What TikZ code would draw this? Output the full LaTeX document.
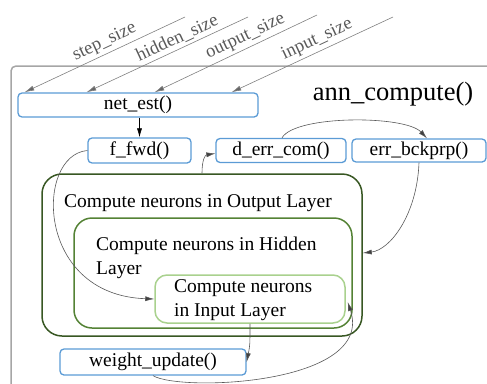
\documentclass[tikz,border=0pt]{standalone}
\usepackage{fontspec}
\setmainfont{Liberation Serif}
\usetikzlibrary{arrows.meta}
\definecolor{boxblue}{HTML}{5B9BD5}
\definecolor{dkgreen}{HTML}{385723}
\definecolor{mdgreen}{HTML}{548235}
\definecolor{ltgreen}{HTML}{A9D18E}
\definecolor{framegray}{HTML}{A6A6A6}
\definecolor{linegray}{HTML}{595959}
\definecolor{headgray}{HTML}{404040}
\definecolor{labelgray}{HTML}{595959}
\begin{document}
\begin{tikzpicture}[x=1pt,y=-1pt,
  fn/.style={draw=boxblue,line width=1.3pt,rounded corners=4pt,inner sep=0pt,font=\fontsize{19.5}{24}\selectfont},
  layer/.style={line width=1.5pt,inner sep=0pt},
  txt/.style={inner sep=0pt,align=left,font=\fontsize{19.5}{24}\selectfont},
  conn/.style={draw=linegray,line width=0.6pt,-{Latex[length=9pt,width=5pt,fill=headgray]}},
  diag/.style={draw=gray,line width=0.6pt,{Latex[length=10pt,width=5pt,fill=headgray!80]}-},
  lbl/.style={font=\fontsize{18.5}{20}\selectfont,text=labelgray,inner sep=3pt}
]
\useasboundingbox (0,0) rectangle (487,383);
% outer frame
\draw[framegray,line width=1.5pt,rounded corners=5pt] (11,400) -- (11,66) -- (500,66);
\node[font=\fontsize{26.5}{30}\selectfont,inner sep=0pt] (title) at (393,94) {ann\_compute()};
% function boxes
\node[fn,minimum width=240pt,minimum height=24pt] (net) at (138,105) {net\_est()};
\node[fn,minimum width=103pt,minimum height=25pt] (ffwd) at (139.5,150.5) {f\_fwd()};
\node[fn,minimum width=130pt,minimum height=24pt] (derr) at (281,150.5) {d\_err\_com()};
\node[fn,minimum width=134pt,minimum height=23pt] (ebp) at (419,150.5) {err\_bckprp()};
\node[fn,minimum width=186pt,minimum height=26pt] (wup) at (153,362) {weight\_update()};
% layer boxes
\node[layer,draw=dkgreen,rounded corners=20pt,minimum width=320pt,minimum height=162pt] (outL) at (202,255) {};
\node[layer,draw=mdgreen,rounded corners=18pt,minimum width=278pt,minimum height=110pt] (hidL) at (213,273) {};
\node[layer,draw=ltgreen,fill=white,rounded corners=12pt,minimum width=190pt,minimum height=48pt] (inL) at (250,299) {};
\node[txt,anchor=west] (outT) at (64,203) {Compute neurons in Output Layer};
\node[txt,anchor=west] (hidT) at (96,258) {Compute neurons in Hidden\\Layer};
\node[txt,anchor=west] (inT) at (174,300) {Compute neurons\\in Input Layer};
% parameter inputs
\coordinate (p1) at (185,17);
\coordinate (p2) at (248,17);
\coordinate (p3) at (317,15);
\coordinate (p4) at (393,17);
\draw[diag] ([xshift=7pt]net.north west) -- (p1) node[lbl,sloped,above,pos=0.53] {step\_size};
\draw[diag] ([xshift=69pt]net.north west) -- (p2) node[lbl,sloped,above,pos=0.59] {hidden\_size};
\draw[diag] ([xshift=137pt]net.north west) -- (p3) node[lbl,sloped,above,pos=0.59] {output\_size};
\draw[diag] ([xshift=214pt]net.north west) -- (p4) node[lbl,sloped,above,pos=0.56] {input\_size};
% connectors
\draw[line width=0.6pt,-{Latex[length=9pt,width=5pt]}] (net.south -| ffwd.north) -- (ffwd.north);
\draw[conn] (ffwd.west) .. controls (35,155) and (35,295) .. (inL.west);
\draw[conn] (outL.north) .. controls (202,160) and (205,155) .. ([yshift=-3pt]derr.west);
\draw[conn] ([xshift=1pt]derr.north) .. controls (295,115) and (405,115) .. ([xshift=8pt]ebp.north);
\draw[conn] (ebp.south) .. controls (417,215) and (390,250) .. ([yshift=2pt]outL.east);
\draw[conn] (inL.south) .. controls (250,345) .. (wup.east);
\draw[conn] (wup.south) .. controls (180,392) and (375,385) .. ([xshift=2pt,yshift=-3pt]inL.east);
\end{tikzpicture}
\end{document}
